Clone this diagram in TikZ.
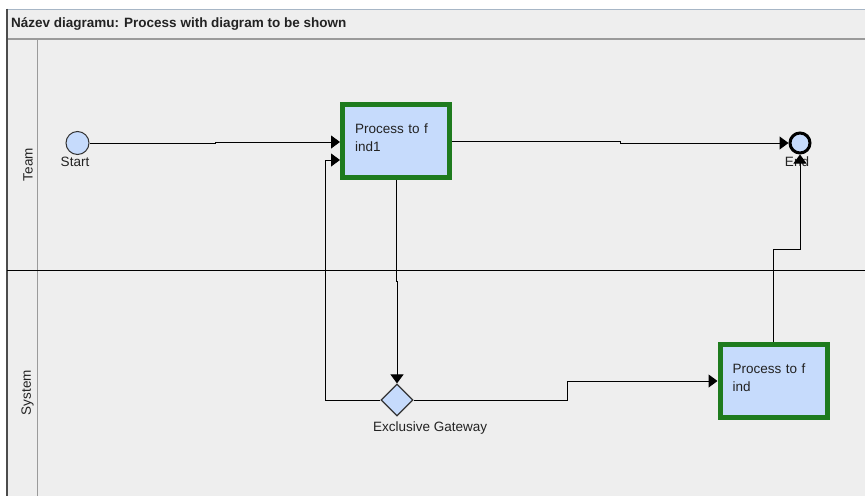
\documentclass[tikz,border=0pt]{standalone}
\usepackage{fontspec}
\setmainfont{Liberation Sans}
\usetikzlibrary{arrows.meta,shapes.geometric}
\definecolor{canvasgray}{HTML}{EEEEEE}
\definecolor{taskblue}{HTML}{C6DBFC}
\definecolor{taskgreen}{HTML}{1E7B1E}
\definecolor{frameline}{HTML}{9A9A9A}
\definecolor{topline}{HTML}{A7B6C6}
\definecolor{inkgray}{HTML}{222222}
\tikzset{
  txt/.style={font=\fontsize{13.5}{18}\selectfont, text=inkgray, inner sep=0pt},
  hdr/.style={font=\bfseries\fontsize{13.5}{18}\selectfont, text=inkgray, inner sep=0pt},
  flow/.style={draw=black, line width=1pt, -{Triangle[length=9pt,width=13pt]}},
  task/.style={draw=taskgreen, fill=taskblue, line width=5pt, rectangle,
    minimum width=107pt, minimum height=73pt, inner sep=0pt,
    text width=82pt, align=left, text depth=24pt,
    font=\fontsize{13.5}{18}\selectfont, text=inkgray},
  startev/.style={circle, draw=black!80, fill=taskblue, line width=1pt,
    minimum size=23pt, inner sep=0pt},
  endev/.style={circle, draw=black, fill=taskblue, line width=3pt,
    minimum size=20pt, inner sep=0pt},
  xgate/.style={diamond, draw=black!80, fill=taskblue, line width=1.2pt,
    minimum width=32pt, minimum height=32pt, inner sep=0pt},
}
\begin{document}
\begin{tikzpicture}[x=1pt,y=-1pt]
  \useasboundingbox (0,0) rectangle (865,496);
  % pool frame and lanes
  \fill[white] (0,0) rectangle (865,496);
  \fill[canvasgray] (7,9) rectangle (865,496);
  \draw[topline, line width=1pt] (7,9) -- (865,9);
  \draw[frameline, line width=2pt] (7,38.5) -- (865,38.5);
  \draw[black!70, line width=1.5pt] (7,8.5) -- (7,496);
  \draw[frameline, line width=1pt] (37.5,39.5) -- (37.5,496);
  \draw[black, line width=1pt] (7,270) -- (865,270);

  \node[hdr, anchor=base west] (title) at (11,27.5) {Název diagramu: Process with diagram to be shown};
  \node[txt, rotate=90] (laneteam) at (28,164.5) {Team};
  \node[txt, rotate=90] (lanesystem) at (27.5,392.5) {System};

  % flow elements
  \node[startev] (start) at (77.5,143) {};
  \node[txt, anchor=base] (startlbl) at (75,166) {Start};
  \node[task] (box1) at (396,141) {Process to f\\ind1};
  \node[task] (box2) at (773.5,381) {Process to f\\ind};
  \node[xgate] (gw) at (397,400) {};
  \node[txt, anchor=base west] (gwlbl) at (373,431) {Exclusive Gateway};
  \node[txt, anchor=base] (endlbl) at (797,166) {End};
  \node[endev] (end) at (800,143) {};

  % sequence flows
  \draw[flow] (start.east) -- (215,143) -- (215,142) -- ([yshift=-1pt]box1.west);
  \draw[flow] (box1.east) -- (620,141) -- (620,143) -- (end.west);
  \draw[flow] (box1.south) -- (396,281) -- (397,281) -- (gw.north);
  \draw[flow] (gw.west) -- (325.5,400) -- (325.5,160) -- ([yshift=-19pt]box1.west);
  \draw[flow] (gw.east) -- (567,400) -- (567,381) -- (box2.west);
  \draw[flow] (box2.north) -- (773.5,249) -- (800,249) -- (end.south);
\end{tikzpicture}
\end{document}
